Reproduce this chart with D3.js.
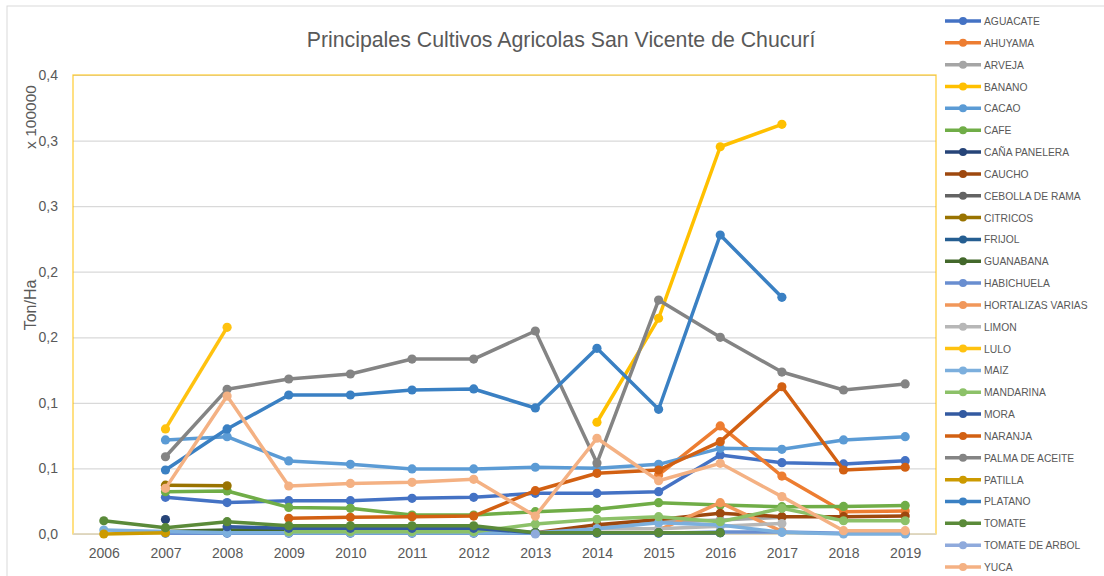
<!DOCTYPE html>
<html><head><meta charset="utf-8">
<script src="https://cdn.jsdelivr.net/npm/d3@7"></script>
<style>
html,body{margin:0;padding:0;background:#fff;}
svg{display:block;font-family:"Liberation Sans",Arial,sans-serif;}
</style></head>
<body><svg id="c" width="1104" height="576"></svg>
<script>
const years = [2006,2007,2008,2009,2010,2011,2012,2013,2014,2015,2016,2017,2018,2019];
const yTickValues = [0,0.05,0.1,0.15,0.2,0.25,0.3,0.35];
const yTickLabels = ["0,0","0,1","0,1","0,2","0,2","0,3","0,3","0,4"];
const title = "Principales Cultivos Agricolas San Vicente de Chucurí";
const _ = null;

const AGUACATE = [_,0.028,0.024,0.0254,0.0254,0.0272,0.028,0.031,0.031,0.0323,0.0602,0.0544,0.0534,0.0559];
const AHUYAMA = [_,_,_,_,_,_,_,_,_,0.045,0.0824,0.0442,0.017,0.0175];
const ARVEJA = [_,_,_,_,_,_,_,_,0.006,0.009,0.0107,0.0127,_,_];
const BANANO = [_,_,_,_,_,_,_,_,0.0852,0.1645,0.2953,0.3124,_,_];
const CACAO = [_,0.0717,0.0742,0.0557,0.0531,0.0496,0.0496,0.0509,0.0501,0.0531,0.0653,0.0646,0.0717,0.0742];
const CAFE = [_,0.0323,0.0328,0.0203,0.0196,0.0145,0.0145,0.017,0.0188,0.0239,0.0221,0.0208,0.021,0.0218];
const CANA_PANELERA = [_,0.011,_,_,_,_,_,_,_,_,_,_,_,_];
const CAUCHO = [_,_,_,_,_,_,_,0.001,0.007,0.011,0.0158,0.0132,0.0132,0.0137];
const CEBOLLA_DE_RAMA = [_,_,0.002,0.003,0.003,0.003,0.003,_,_,_,_,_,_,_];
const CITRICOS = [_,0.0372,0.0368,_,_,_,_,_,_,_,_,_,_,_];
const FRIJOL = [_,0.001,0.001,0.001,0.001,0.001,0.001,0.001,0.001,0.001,0.001,_,_,_];
const GUANABANA = [_,0.002,0.003,0.003,0.003,0.003,0.003,_,_,_,_,_,_,_];
const HABICHUELA = [_,0.0005,0.0005,0.0005,0.0005,0.0005,0.0005,0.0005,0.0005,0.0005,0.0015,0.0015,0.0005,0.0005];
const HORTALIZAS_VARIAS = [_,_,_,_,_,_,_,_,_,0.003,0.0239,0.002,_,_];
const LIMON = [_,_,_,_,_,_,_,_,0.004,0.004,0.006,0.008,_,_];
const LULO = [_,0.0801,0.1576,_,_,_,_,_,_,_,_,_,_,_];
const MAIZ = [0.003,0.002,0.001,0.001,0.001,0.001,0.001,0.001,0.004,0.0086,0.0069,0.0013,0,0];
const MANDARINA = [_,_,_,0.0018,0.0018,0.0018,0.0018,0.0076,0.0112,0.0132,0.0094,0.0196,0.0101,0.0101];
const MORA = [_,_,0.0056,0.0043,0.0043,0.0043,0.0043,0.001,0.001,0.001,0.001,_,_,_];
const NARANJA = [_,_,_,0.012,0.0127,0.0132,0.0137,0.033,0.0463,0.0488,0.0704,0.1123,0.0488,0.0509];
const PALMA_DE_ACEITE = [_,0.0589,0.1103,0.1182,0.122,0.1334,0.1334,0.1548,0.0541,0.1784,0.150,0.1235,0.1098,0.1144];
const PATILLA = [0,0.001,_,_,_,_,_,_,_,_,_,_,_,_];
const PLATANO = [_,0.0488,0.0801,0.106,0.106,0.1098,0.1106,0.0961,0.1416,0.0951,0.228,0.1805,_,_];
const TOMATE = [0.0101,0.0048,0.0094,0.0063,0.0063,0.0063,0.0063,0.001,0.001,0.001,0.001,_,_,_];
const TOMATE_DE_ARBOL = [_,_,_,_,_,_,_,0,_,_,_,_,_,_];
const YUCA = [_,0.0348,0.1052,0.0366,0.0386,0.0394,0.0417,0.0137,0.073,0.0406,0.0539,0.0285,0.0025,0.0025];

const seriesNames = ["AGUACATE","AHUYAMA","ARVEJA","BANANO","CACAO","CAFE","CAÑA PANELERA","CAUCHO","CEBOLLA DE RAMA","CITRICOS","FRIJOL","GUANABANA","HABICHUELA","HORTALIZAS VARIAS","LIMON","LULO","MAIZ","MANDARINA","MORA","NARANJA","PALMA DE ACEITE","PATILLA","PLATANO","TOMATE","TOMATE DE ARBOL","YUCA"];
const seriesValues = [AGUACATE,AHUYAMA,ARVEJA,BANANO,CACAO,CAFE,CANA_PANELERA,CAUCHO,CEBOLLA_DE_RAMA,CITRICOS,FRIJOL,GUANABANA,HABICHUELA,HORTALIZAS_VARIAS,LIMON,LULO,MAIZ,MANDARINA,MORA,NARANJA,PALMA_DE_ACEITE,PATILLA,PLATANO,TOMATE,TOMATE_DE_ARBOL,YUCA];
const seriesColors = ["#4472C4","#ED7D31","#A5A5A5","#FFC000","#5B9BD5","#70AD47","#264478","#9E480E","#636363","#997300","#255E91","#43682B","#698ED0","#F1975A","#B7B7B7","#FFC20F","#7CAFDD","#8CC168","#335AA1","#D26012","#848484","#CC9A00","#3A80C3","#5A8A39","#8FAADC","#F4B183"];

const svg = d3.select("#c");
const L = 73, R = 936, T = 75, B = 534;
const textCol = "#595959";

svg.append("rect").attr("x",7).attr("y",6).attr("width",1110).attr("height",590)
  .attr("fill","#fff").attr("stroke","#d9d9d9").attr("stroke-width",1);

const x = d3.scalePoint().domain(years).range([L,R]).padding(0.5);
const y = d3.scaleLinear().domain([0,0.35]).range([B,T]);

// gridlines
svg.append("g").attr("transform",`translate(${L},0)`)
  .call(d3.axisLeft(y).tickValues(yTickValues).tickSize(-(R-L)).tickFormat(""))
  .call(g=>g.select(".domain").remove())
  .call(g=>g.selectAll("line").attr("stroke","#d9d9d9").attr("stroke-width",1.2));

// plot area border
svg.append("rect").attr("x",L).attr("y",T).attr("width",R-L).attr("height",B-T)
  .attr("fill","none").attr("stroke","#FFC000").attr("stroke-opacity",0.75).attr("stroke-width",1.3);
svg.append("line").attr("x1",L).attr("x2",R).attr("y1",B).attr("y2",B)
  .attr("stroke","#d9d9d9").attr("stroke-width",1.3);

// axes labels
svg.append("g").attr("transform",`translate(${L},0)`)
  .call(d3.axisLeft(y).tickValues(yTickValues).tickSize(0).tickPadding(15)
    .tickFormat((d,i)=>yTickLabels[i]))
  .call(g=>g.select(".domain").remove())
  .call(g=>g.selectAll("text").attr("fill",textCol).style("font-size","14px").style("font-family","'Liberation Sans',Arial,sans-serif"));

svg.append("g").attr("transform",`translate(0,${B})`)
  .call(d3.axisBottom(x).tickSize(0).tickPadding(14))
  .call(g=>g.select(".domain").remove())
  .call(g=>g.selectAll("text").attr("fill",textCol).style("font-size","14px").style("font-family","'Liberation Sans',Arial,sans-serif"));

// titles
svg.append("text").attr("x",561).attr("y",47).attr("text-anchor","middle")
  .attr("fill",textCol).style("font-size","21.3px").text(title);
svg.append("text").attr("transform","translate(36,305) rotate(-90)").attr("text-anchor","middle")
  .attr("fill",textCol).style("font-size","16px").text("Ton/Ha");
svg.append("text").attr("transform","translate(36,117) rotate(-90)").attr("text-anchor","middle")
  .attr("fill",textCol).style("font-size","15.5px").text("x 100000");

// series
const line = d3.line().defined(d=>d.v!==null).x(d=>x(d.year)).y(d=>y(d.v));
seriesNames.forEach((name,i)=>{
  const data = years.map((yr,j)=>({year:yr, v:seriesValues[i][j]}));
  const g = svg.append("g");
  g.append("path").datum(data).attr("d",line).attr("fill","none")
    .attr("stroke",seriesColors[i]).attr("stroke-width",3.5).attr("stroke-linejoin","round");
  g.selectAll("circle").data(data.filter(d=>d.v!==null)).join("circle")
    .attr("cx",d=>x(d.year)).attr("cy",d=>y(d.v)).attr("r",4.6).attr("fill",seriesColors[i]);
});

// legend
const lg = svg.append("g");
seriesNames.forEach((name,i)=>{
  const yy = 21 + i*21.84;
  lg.append("line").attr("x1",945).attr("x2",981).attr("y1",yy).attr("y2",yy)
    .attr("stroke",seriesColors[i]).attr("stroke-width",3.5);
  lg.append("circle").attr("cx",963).attr("cy",yy).attr("r",4).attr("fill",seriesColors[i]);
  lg.append("text").attr("x",984).attr("y",yy+4).attr("fill",textCol)
    .style("font-size","10.3px").text(name);
});
</script></body></html>
